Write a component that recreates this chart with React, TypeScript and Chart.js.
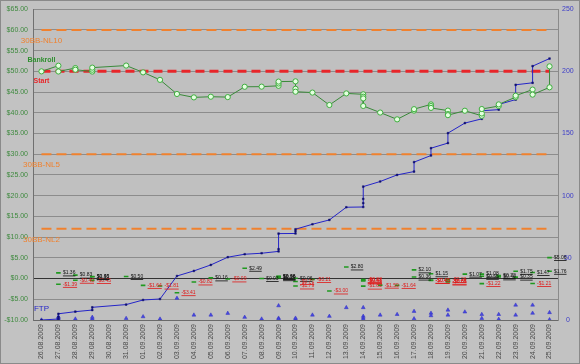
import { useEffect, useRef } from 'react';
import { Chart, registerables } from 'chart.js';
Chart.register(...registerables);

const dates = [
  '26.08.2009', '27.08.2009', '28.08.2009', '29.08.2009', '30.08.2009', '31.08.2009',
  '01.09.2009', '02.09.2009', '03.09.2009', '04.09.2009', '05.09.2009', '06.09.2009',
  '07.09.2009', '08.09.2009', '09.09.2009', '10.09.2009', '11.09.2009', '12.09.2009',
  '13.09.2009', '14.09.2009', '15.09.2009', '16.09.2009', '17.09.2009', '18.09.2009',
  '19.09.2009', '20.09.2009', '21.09.2009', '22.09.2009', '23.09.2009', '24.09.2009',
  '25.09.2009',
];

// Bankroll after each session (left axis, $)
const bankrollDay = [0, 1, 1, 2, 2, 3, 3, 3, 5, 6, 7, 8, 9, 10, 11, 12, 13, 14, 14, 14, 15, 15, 15, 16, 17, 18, 19, 19, 19, 19, 20, 21, 22, 22, 23, 23, 23, 24, 24, 24, 25, 26, 26, 26, 27, 27, 28, 28, 29, 29, 30, 30];
const bankrollValue = [50.0, 51.36, 49.97, 50.8, 50.4, 49.95, 50.4, 50.9, 51.4, 49.76, 47.95, 44.54, 43.72, 43.88, 43.79, 46.28, 46.31, 46.51, 47.07, 47.53, 47.59, 45.8, 45.09, 44.88, 41.88, 44.68, 44.46, 43.88, 43.47, 41.65, 40.06, 38.42, 40.52, 40.88, 42.03, 41.63, 41.18, 40.53, 39.69, 39.43, 40.5, 39.28, 39.83, 40.91, 41.63, 42.03, 43.78, 44.13, 45.6, 44.39, 46.15, 51.21];

// Single session results (left axis, $)
const sessionDay = [1, 1, 2, 2, 3, 3, 3, 5, 6, 7, 8, 9, 10, 11, 12, 13, 14, 14, 14, 15, 15, 15, 16, 17, 18, 19, 19, 19, 19, 20, 21, 22, 22, 23, 23, 23, 24, 24, 24, 25, 26, 26, 26, 27, 27, 28, 28, 29, 29, 30, 30];
const sessionResult = [1.36, -1.39, 0.83, -0.4, -0.45, 0.45, 0.5, 0.5, -1.64, -1.81, -3.41, -0.82, 0.16, -0.09, 2.49, 0.03, 0.2, 0.56, 0.46, 0.06, -1.79, -0.71, -0.21, -3.0, 2.8, -0.22, -0.58, -0.41, -1.82, -1.59, -1.64, 2.1, 0.36, 1.15, -0.4, -0.45, -0.65, -0.84, -0.26, 1.07, -1.22, 0.55, 1.08, 0.72, 0.4, 1.75, 0.35, 1.47, -1.21, 1.76, 5.06];

// FTP points total (right axis)
const ftpTotalDay = [0, 1, 1, 1, 2, 3, 3, 5, 6, 7, 8, 9, 10, 11, 12, 13, 14, 14, 14, 15, 15, 15, 16, 17, 18, 19, 19, 19, 19, 20, 21, 22, 22, 23, 23, 24, 24, 25, 26, 26, 26, 27, 27, 28, 28, 29, 29, 30];
const ftpTotal = [0, 0.8, 2.5, 5.0, 6.7, 8.0, 10.2, 12.4, 16.1, 16.9, 35.4, 39.5, 44.3, 50.5, 52.9, 53.7, 55.2, 57.0, 69.5, 69.6, 71.5, 73.0, 77.0, 80.5, 90.7, 90.9, 94.0, 97.4, 107.3, 111.4, 116.7, 119.4, 127.0, 132.3, 138.2, 142.3, 150.3, 158.4, 161.8, 165.0, 168.3, 169.2, 173.4, 177.3, 189.2, 190.8, 204.2, 210.3];

// FTP points per session (right axis)
const ftpSessionDay = [0, 1, 1, 1, 2, 3, 3, 5, 6, 7, 8, 9, 10, 11, 12, 13, 14, 14, 14, 15, 15, 16, 17, 18, 19, 19, 19, 19, 20, 21, 22, 22, 23, 23, 24, 24, 25, 26, 26, 27, 27, 28, 28, 29, 29, 30, 30];
const ftpSession = [0, 0.8, 1.7, 2.5, 0.8, 0.8, 2.2, 1.3, 2.7, 0.8, 17.5, 4.0, 4.0, 5.4, 2.2, 0.8, 11.5, 1.5, 0.6, 0.6, 1.5, 4.0, 3.0, 10.0, 10.0, 3.0, 1.5, 0.2, 4.0, 4.5, 7.0, 1.0, 5.5, 3.5, 8.0, 4.0, 6.5, 4.5, 1.3, 4.5, 0.6, 12.0, 4.0, 12.0, 5.5, 6.0, 0.3];

// Reference levels ($)
const levelNames = ['30BB-NL10', '30BB-NL5', '30BB-NL2'];
const levelValues = [60, 30, 12];
const startName = 'Start';
const startValue = 50;

const FONT = "'Liberation Sans', Arial, sans-serif";
const ORANGE = '#f0812e';
const RED = '#e8262a';
const GREEN = '#2f8f2f';
const BLUE = '#2424c8';

const money = (v: number) => (v < 0 ? '-$' : '$') + Math.abs(v).toFixed(2);

const pts = (days: number[], vals: number[]) => days.map((d, i) => ({ x: dates[d], y: vals[i] }));

const bgPlugin = {
  id: 'bg',
  beforeDraw(chart: any) {
    const { ctx, chartArea: a, width, height } = chart;
    ctx.save();
    ctx.fillStyle = '#c2c2c2';
    ctx.fillRect(0, 0, width, height);
    ctx.fillStyle = '#c0c0c0';
    ctx.fillRect(a.left, a.top, a.right - a.left, a.bottom - a.top);
    ctx.strokeStyle = '#8a8a8a';
    ctx.lineWidth = 1;
    ctx.strokeRect(0.5, 0.5, width - 1, height - 1);
    ctx.restore();
  },
};

const labelPlugin = {
  id: 'labels',
  afterDatasetsDraw(chart: any) {
    const ctx = chart.ctx;
    ctx.save();
    ctx.textAlign = 'center';
    ctx.textBaseline = 'middle';
    const first = (idx: number) => chart.getDatasetMeta(idx).data[0];
    // level names
    levelNames.forEach((name, i) => {
      const p = first(i);
      ctx.font = `8px ${FONT}`;
      ctx.fillStyle = ORANGE;
      ctx.fillText(name, p.x, p.y + 11);
    });
    let p = first(3);
    ctx.font = `bold 7px ${FONT}`;
    ctx.fillStyle = RED;
    ctx.fillText(startName, p.x, p.y + 10);
    p = first(4);
    ctx.fillStyle = GREEN;
    ctx.fillText('Bankroll', p.x, p.y - 11);
    p = first(6);
    ctx.font = `8px ${FONT}`;
    ctx.fillStyle = BLUE;
    ctx.fillText('FTP', p.x, p.y - 11);
    // session value labels
    const meta = chart.getDatasetMeta(7);
    ctx.textAlign = 'left';
    ctx.font = `5px ${FONT}`;
    meta.data.forEach((pt: any, i: number) => {
      const v = sessionResult[i];
      const t = money(v);
      ctx.fillStyle = v < 0 ? '#e01818' : '#111111';
      const x = pt.x + 4.5;
      ctx.fillText(t, x, pt.y);
      const w = ctx.measureText(t).width;
      ctx.fillRect(x, pt.y + 2.6, w, 0.8);
    });
    ctx.restore();
  },
};

const levelDataset = (v: number, color: string, width: number, dash: number[], order: number) => ({
  type: 'line' as const,
  data: [{ x: dates[0], y: v }, { x: dates[dates.length - 1], y: v }],
  borderColor: color,
  borderWidth: width,
  borderDash: dash,
  pointRadius: 0,
  yAxisID: 'y',
  order,
});

export default function App() {
  const ref = useRef<HTMLCanvasElement>(null);
  useEffect(() => {
    Chart.defaults.font.family = FONT;
    const chart = new Chart(ref.current as HTMLCanvasElement, {
      type: 'line',
      data: {
        labels: dates,
        datasets: [
          levelDataset(levelValues[0], ORANGE, 2, [10, 5], 8),
          levelDataset(levelValues[1], ORANGE, 2, [10, 5], 8),
          levelDataset(levelValues[2], ORANGE, 2, [10, 5], 8),
          levelDataset(startValue, RED, 3, [9, 5], 7),
          {
            type: 'line',
            data: pts(bankrollDay, bankrollValue),
            borderColor: '#3a8a3a',
            borderWidth: 1,
            pointRadius: 2.6,
            pointBorderWidth: 1,
            pointBorderColor: '#3fae3f',
            pointBackgroundColor: '#e4ffe0',
            yAxisID: 'y',
            order: 3,
          },
          {
            type: 'line',
            data: pts(ftpTotalDay, ftpTotal),
            borderColor: BLUE,
            borderWidth: 1,
            pointStyle: 'rect',
            pointRadius: 1.2,
            pointBorderWidth: 0.5,
            pointBorderColor: '#101070',
            pointBackgroundColor: '#101070',
            yAxisID: 'y1',
            order: 4,
          },
          {
            type: 'line',
            data: pts(ftpSessionDay, ftpSession),
            showLine: false,
            pointStyle: 'triangle',
            pointRadius: 2.2,
            pointBorderWidth: 0.5,
            pointBorderColor: '#3030c0',
            pointBackgroundColor: '#4848e0',
            yAxisID: 'y1',
            order: 5,
          },
          {
            type: 'line',
            data: pts(sessionDay, sessionResult),
            showLine: false,
            pointStyle: 'line',
            pointRadius: 2.3,
            pointBorderWidth: 1.6,
            pointBorderColor: '#1f9a1f',
            yAxisID: 'y',
            order: 1,
          },
        ] as any,
      },
      options: {
        responsive: false,
        animation: false,
        devicePixelRatio: 1,
        layout: { padding: { top: 9, left: 0, right: 0, bottom: 0 } },
        plugins: { legend: { display: false }, tooltip: { enabled: false } },
        scales: {
          x: {
            type: 'category',
            offset: true,
            grid: { display: false, drawTicks: false },
            border: { display: true, color: '#6a6a6a' },
            ticks: {
              autoSkip: false,
              minRotation: 90,
              maxRotation: 90,
              padding: 4,
              color: '#4a4a4a',
              font: { size: 7, family: FONT },
            },
            afterFit: (s: any) => { s.height = 44; },
          },
          y: {
            position: 'left',
            min: -10,
            max: 65,
            ticks: {
              stepSize: 5,
              padding: 5,
              color: '#3f8a3f',
              font: { size: 7, family: FONT },
              callback: (v: any) => money(Number(v)),
            },
            grid: {
              drawTicks: false,
              color: (c: any) => (c.tick && c.tick.value === 0 ? '#333333' : '#8c8c8c'),
              lineWidth: 1,
            },
            border: { display: true, color: '#707070' },
            afterFit: (s: any) => { s.width = 33; },
          },
          y1: {
            position: 'right',
            min: 0,
            max: 250,
            ticks: {
              stepSize: 50,
              padding: 4,
              crossAlign: 'center',
              color: '#3c3cc8',
              font: { size: 7, family: FONT },
            },
            grid: { drawOnChartArea: false, drawTicks: false },
            border: { display: true, color: '#8a8a8a' },
            afterFit: (s: any) => { s.width = 22; },
          },
        },
      },
      plugins: [bgPlugin, labelPlugin],
    } as any);
    return () => chart.destroy();
  }, []);
  return (
    <div style={{ position: 'fixed', left: 0, top: 0, width: 580, height: 364 }}>
      <canvas ref={ref} width={580} height={364} style={{ display: 'block', width: 580, height: 364 }} />
    </div>
  );
}
